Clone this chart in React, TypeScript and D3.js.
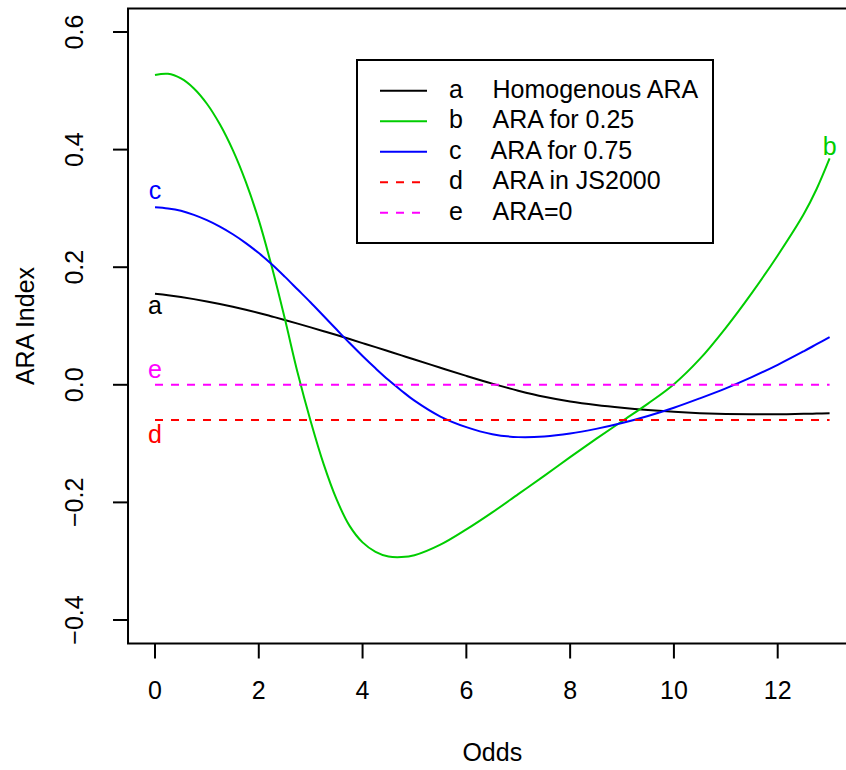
import React from "react";
import * as d3 from "d3";

const width = 846;
const height = 770;
const font = "'Liberation Sans', Arial, Helvetica, sans-serif";
const fs = 25;

// odds grid shared by the three curves
const odds = [0, 0.25, 0.5, 0.75, 1, 1.25, 1.5, 1.75, 2, 2.25, 2.5, 2.75, 3, 3.25, 3.5, 3.75, 4, 4.25, 4.5, 4.75, 5, 5.5, 6, 6.5, 7, 7.5, 8, 8.5, 9, 9.5, 10, 10.5, 11, 11.5, 12, 12.5, 12.75, 13];

const homogenous = [0.155, 0.1523, 0.1492, 0.1457, 0.1418, 0.1375, 0.1328, 0.1277, 0.1222, 0.1163, 0.1103, 0.1041, 0.0977, 0.0912, 0.0846, 0.0778, 0.0709, 0.064, 0.057, 0.05, 0.043, 0.029, 0.0152, 0.002, -0.01, -0.0205, -0.0285, -0.0345, -0.0392, -0.043, -0.046, -0.0482, -0.0496, -0.0502, -0.0501, -0.0494, -0.0489, -0.0483];
const ara025 = [0.527, 0.529, 0.521, 0.504, 0.478, 0.443, 0.399, 0.345, 0.28, 0.201, 0.113, 0.02, -0.062, -0.135, -0.195, -0.24, -0.268, -0.284, -0.292, -0.293, -0.29, -0.272, -0.246, -0.217, -0.186, -0.155, -0.123, -0.092, -0.062, -0.032, 0.001, 0.044, 0.097, 0.156, 0.22, 0.29, 0.333, 0.385];
const ara075 = [0.302, 0.3, 0.296, 0.289, 0.28, 0.269, 0.256, 0.241, 0.224, 0.205, 0.184, 0.162, 0.14, 0.117, 0.094, 0.071, 0.049, 0.028, 0.008, -0.01, -0.027, -0.054, -0.072, -0.084, -0.089, -0.088, -0.083, -0.075, -0.065, -0.053, -0.039, -0.023, -0.006, 0.013, 0.034, 0.057, 0.069, 0.081];

const js2000 = -0.06;
const zeroLine = 0;

const xTicks = [0, 2, 4, 6, 8, 10, 12];
const yTicks = [-0.4, -0.2, 0, 0.2, 0.4, 0.6];

const legendKeys = ["a", "b", "c", "d", "e"];
const legendLabels = ["Homogenous ARA", "ARA for 0.25", "ARA for 0.75", "ARA in JS2000", "ARA=0"];
const legendColors = ["#000000", "#00CD00", "#0000FF", "#FF0000", "#FF00FF"];
const legendDashed = [false, false, false, true, true];

// letters written next to the curves
const tagText = ["a", "b", "c", "d", "e"];
const tagX = [0, 13, 0, 0, 0];
const tagY = [0.131, 0.401, 0.327, -0.089, 0.022];

const x = d3.scaleLinear().domain([0, 12]).range([155, 777.7]);
const y = d3.scaleLinear().domain([-0.44, 0.64]).range([643.5, 8.5]);

const line = d3
  .line<number>()
  .x((d, i) => x(odds[i]))
  .y(d => y(d))
  .curve(d3.curveCatmullRom.alpha(0.5));

const fmt = d3.format(".1f");

export default function App() {
  const left = x(-0.52);
  const right = x(13.52);
  const top = y(0.64);
  const bottom = y(-0.44);
  const series = [homogenous, ara025, ara075];

  return (
    <svg
      width={width}
      height={height}
      style={{ position: "absolute", left: 0, top: 0, background: "#fff" }}
      fontFamily={font}
    >
      {series.map((s, i) => (
        <path key={i} d={line(s) || ""} fill="none" stroke={legendColors[i]} strokeWidth={2} />
      ))}
      <line x1={x(0)} x2={x(13)} y1={y(js2000)} y2={y(js2000)} stroke="#FF0000" strokeWidth={2} strokeDasharray="8,8" />
      <line x1={x(0)} x2={x(13)} y1={y(zeroLine)} y2={y(zeroLine)} stroke="#FF00FF" strokeWidth={2} strokeDasharray="8,8" />

      {tagText.map((t, i) => (
        <text key={t} x={x(tagX[i])} y={y(tagY[i]) + 6} textAnchor="middle" fontSize={fs} fill={legendColors[i]}>
          {t}
        </text>
      ))}

      <rect x={left} y={top} width={right - left} height={bottom - top} fill="none" stroke="#000" strokeWidth={2} />

      {xTicks.map(t => (
        <g key={t}>
          <line x1={x(t)} x2={x(t)} y1={bottom} y2={bottom + 15} stroke="#000" strokeWidth={2} />
          <text x={x(t)} y={699} textAnchor="middle" fontSize={fs}>
            {t}
          </text>
        </g>
      ))}
      {yTicks.map(t => (
        <g key={t}>
          <line x1={left - 15} x2={left} y1={y(t)} y2={y(t)} stroke="#000" strokeWidth={2} />
          <text transform={`translate(83,${y(t)}) rotate(-90)`} textAnchor="middle" fontSize={fs}>
            {fmt(t)}
          </text>
        </g>
      ))}

      <text x={(left + right) / 2} y={761} textAnchor="middle" fontSize={fs}>
        Odds
      </text>
      <text transform={`translate(34,${(top + bottom) / 2}) rotate(-90)`} textAnchor="middle" fontSize={fs}>
        ARA Index
      </text>

      <rect x={357} y={60} width={356} height={183} fill="#fff" stroke="#000" strokeWidth={2} />
      {legendKeys.map((k, i) => {
        const ry = 90.7 + i * 30.5;
        return (
          <g key={k}>
            <line
              x1={380}
              x2={427}
              y1={ry}
              y2={ry}
              stroke={legendColors[i]}
              strokeWidth={2}
              strokeDasharray={legendDashed[i] ? "8,8" : undefined}
            />
            <text x={449} y={ry + 7} fontSize={fs}>
              {k}
            </text>
            <text x={i === 2 ? 490.5 : 492.5} y={ry + 7} fontSize={fs}>
              {legendLabels[i]}
            </text>
          </g>
        );
      })}
    </svg>
  );
}
